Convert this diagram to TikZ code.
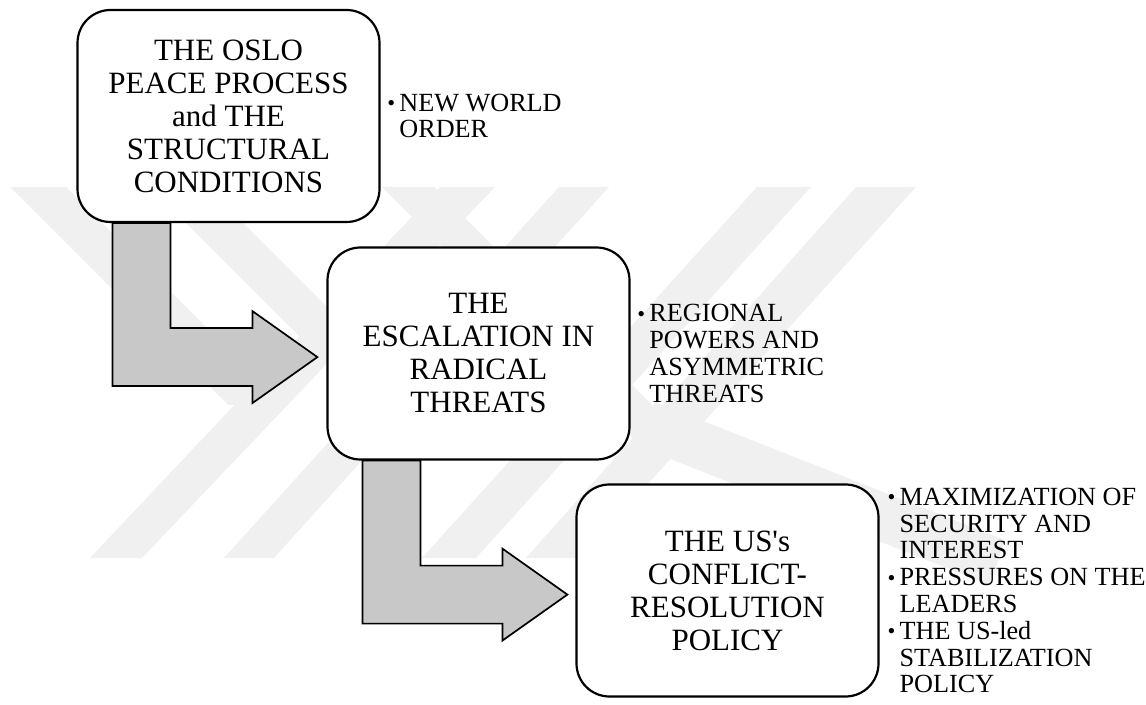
\documentclass[tikz,border=0pt]{standalone}
\usepackage{fontspec}
\setmainfont{Liberation Serif}
\usetikzlibrary{positioning, calc}
\definecolor{arrowgray}{HTML}{C8C8C8}
\definecolor{wmgray}{HTML}{F0F0F0}
\newcommand{\itm}{\makebox[5pt][l]{\hspace*{-1pt}\raisebox{.05ex}{\scalebox{.85}{\textbullet}}}}
\newcommand{\cont}{\hspace*{5pt}}

\begin{document}
\begin{tikzpicture}[x=0.5pt, y=-0.5pt,
    stage/.style={draw, line width=1.1pt, fill=white, rounded corners=16.5pt,
      minimum width=151pt, minimum height=106pt, inner sep=0pt, align=center,
      font=\fontsize{15.5}{16.5}\selectfont},
    notes/.style={inner sep=0pt, align=left, font=\fontsize{13.1}{13.4}\selectfont},
    bentarrow/.style={draw, line width=0.85pt, fill=arrowgray, line join=miter}]
  \useasboundingbox (0,0) rectangle (1146,705);

  % faint watermark behind everything
  \fill[wmgray] (440,187) -- (495,187) -- (142,558) -- (90,558) -- cycle
                (559,187) -- (609,187) -- (274,558) -- (224,558) -- cycle
                (757,187) -- (811,187) -- (476,558) -- (422,558) -- cycle
                (856,187) -- (916,187) -- (581,558) -- (526,558) -- cycle
                (10,187) -- (66,187) -- (284,405) -- (228,405) -- cycle
                (150,187) -- (207,187) -- (420,400) -- (363,400) -- cycle
                (382,187) -- (434,187) -- (672,425) -- (640,445) -- cycle
                (655,402) -- (1005,540) -- (990,585) -- (640,447) -- cycle;

  \node[stage] (oslo) at (228.5,116) {THE OSLO\\PEACE PROCESS\\and THE\\STRUCTURAL\\CONDITIONS};
  \node[stage] (escal) at (478.5,353.5) {THE\\ESCALATION IN\\RADICAL\\THREATS};
  \node[stage] (uspol) at (727.5,590.5) {THE US\textquotesingle s\\CONFLICT-\\RESOLUTION\\POLICY};

  \node[notes, right=4.2pt of oslo] (oslonotes) {\itm NEW WORLD\\\cont ORDER};
  \node[notes, right=4.2pt of escal] (escalnotes) {\itm REGIONAL\\\cont POWERS AND\\\cont ASYMMETRIC\\\cont THREATS};
  \node[notes, right=4.8pt of uspol] (uspolnotes) {\itm MAXIMIZATION OF\\\cont SECURITY AND\\\cont INTEREST\\
    \itm PRESSURES ON THE\\\cont LEADERS\\\itm THE US-led\\\cont STABILIZATION\\\cont POLICY};

  % bent arrows between the stages
  \draw[bentarrow] (oslo.south west) ++(36,0) -- ++(0,163) -- ++(140,0) -- ++(0,17)
    -- ++(65,-46) -- ++(-65,-46) -- ++(0,17) -- ++(-82,0) -- ++(0,-105) -- cycle;
  \draw[bentarrow] (escal.south west) ++(36,0) -- ++(0,163) -- ++(140,0) -- ++(0,17)
    -- ++(65,-46) -- ++(-65,-46) -- ++(0,17) -- ++(-82,0) -- ++(0,-105) -- cycle;
\end{tikzpicture}
\end{document}
